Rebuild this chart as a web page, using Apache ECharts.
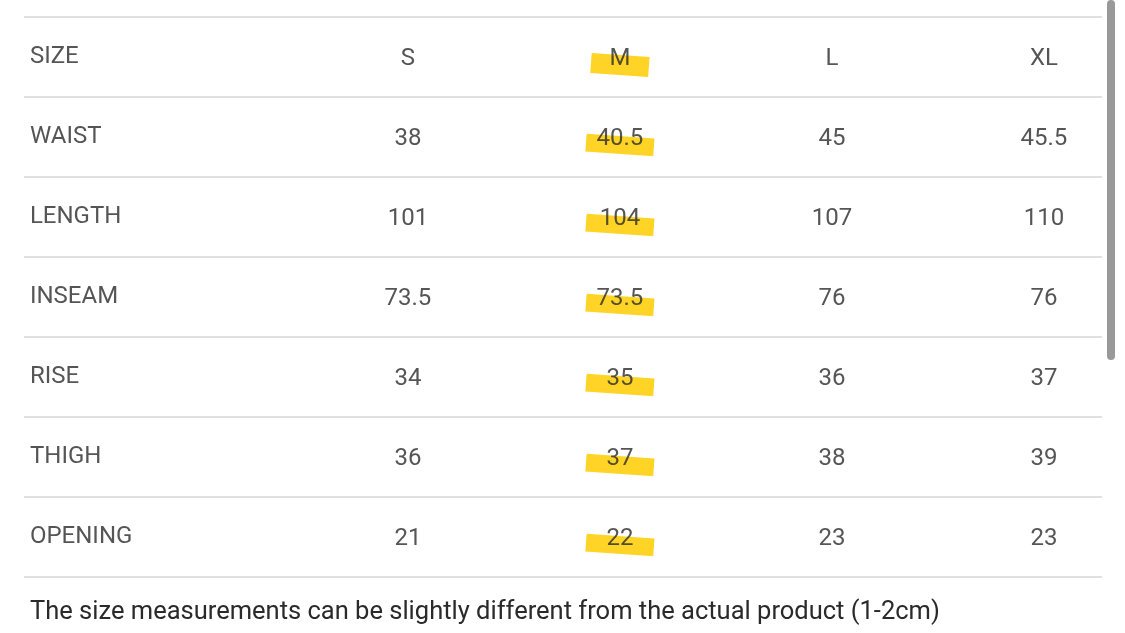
<!DOCTYPE html><html><head><meta charset="utf-8"><script src="https://cdn.jsdelivr.net/npm/echarts@6/dist/echarts.min.js"></script>
<style>html,body{margin:0;background:#fff}#c{width:1125px;height:633px}</style></head><body><div id="c"></div><script>
const sizes=['S','M','L','XL'];
const rows=['WAIST','LENGTH','INSEAM','RISE','THIGH','OPENING'];
const values=[['38','40.5','45','45.5'],['101','104','107','110'],['73.5','73.5','76','76'],['34','35','36','37'],['36','37','38','39'],['21','22','23','23']];
const note='The size measurements can be slightly different from the actual product (1-2cm)';
const headerLabel='SIZE';
const cells=[],heads=[],marks=[];
heads.push([-1.783,0.5,headerLabel]);
sizes.forEach((s,i)=>cells.push([i,0.5,s]));
rows.forEach((r,j)=>{heads.push([-1.783,j+1.5,r]);values[j].forEach((v,i)=>cells.push([i,j+1.5,v]));});
marks.push([1,0.5]);for(let j=0;j<rows.length;j++)marks.push([1,j+1.5]);
const font={fontFamily:'Roboto',fontSize:24,color:'#2a2a2a'};
echarts.init(document.getElementById('c')).setOption({
animation:false,
grid:{left:24,right:23,top:17,bottom:56},
xAxis:{type:'value',min:-1.811,max:3.274,show:false},
yAxis:{type:'value',min:0,max:7,interval:1,inverse:true,axisLabel:{show:false},axisLine:{show:false},axisTick:{show:false},splitLine:{show:true,lineStyle:{color:'#d6d6d6',width:1.5}}},
graphic:[{type:'text',left:30,top:600,style:{text:note,font:'25.5px Roboto',fill:'#2a2a2a'}},
{type:'rect',shape:{x:1107,y:0,width:8,height:360,r:4},style:{fill:'#999'}}],
series:[
{type:'scatter',data:marks,symbol:'rect',symbolRotate:-4,symbolSize:(v,p)=>p.dataIndex===0?[58,20]:[68,18],symbolOffset:[0,8],itemStyle:{color:'#FFD21A',opacity:0.95},silent:true,z:1},
{type:'scatter',data:cells,symbolSize:0,z:3,label:{show:true,position:'inside',offset:[0,2],formatter:p=>p.data[2],...font}},
{type:'scatter',data:heads,symbolSize:0,z:3,label:{show:true,position:'right',distance:0,align:'left',offset:[0,0],formatter:p=>p.data[2],...font}}
]});
</script></body></html>
